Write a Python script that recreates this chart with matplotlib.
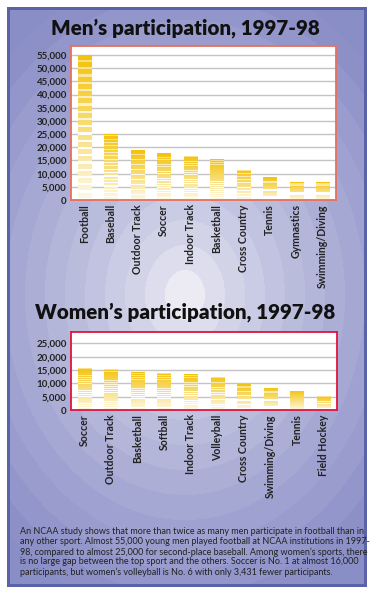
import numpy as np
import matplotlib
matplotlib.use("Agg")
import matplotlib.pyplot as plt
from matplotlib.colors import to_rgb

# data
men_sports = ["Football", "Baseball", "Outdoor Track", "Soccer", "Indoor Track",
              "Basketball", "Cross Country", "Tennis", "Gymnastics", "Swimming/Diving"]
men_counts = [54900, 25200, 18900, 17800, 16800, 15400, 11400, 8700, 6800, 6800]

women_sports = ["Soccer", "Outdoor Track", "Basketball", "Softball", "Indoor Track",
                "Volleyball", "Cross Country", "Swimming/Diving", "Tennis", "Field Hockey"]
women_counts = [15900, 15500, 14100, 14000, 13400, 12469, 9700, 8450, 7300, 5150]

men_ticks = list(range(0, 55001, 5000))
women_ticks = list(range(0, 25001, 5000))

caption = [
    "An NCAA study shows that more than twice as many men participate in football than in",
    "any other sport. Almost 55,000 young men played football at NCAA institutions in 1997-",
    "98, compared to almost 25,000 for second-place baseball. Among women\u2019s sports, there",
    "is no large gap between the top sport and the others. Soccer is No. 1 at almost 16,000",
    "participants, but women\u2019s volleyball is No. 6 with only 3,431 fewer participants.",
]

W, H = 374, 595
fig = plt.figure(figsize=(W / 100, H / 100), dpi=100)

# background panel with concentric light rings
bg = fig.add_axes([0, 0, 1, 1], zorder=0)
bg.add_patch(plt.Rectangle((7, 7), 360, 580, facecolor="#5a62a8", edgecolor="none", zorder=1))
yy, xx = np.mgrid[10:584, 10:364] + 0.5
r = np.sqrt((xx - 185) ** 2 + ((yy - 295) / 1.25) ** 2)
r = np.floor(r / 20) * 20 / 250.0
r = np.clip(r, 0, 1) ** 0.75
c_in = np.array(to_rgb("#ecebf4"))
c_out = np.array(to_rgb("#8a8ec6"))
img = c_in[None, None, :] * (1 - r[..., None]) + c_out[None, None, :] * r[..., None]
bg.imshow(img, extent=(10, 364, 584, 10), origin="upper", interpolation="bilinear",
          aspect="auto", zorder=2)
bg.set_xlim(0, W)
bg.set_ylim(H, 0)
bg.axis("off")

bg.text(185, 35, "Men\u2019s participation, 1997-98", ha="center", va="baseline",
        fontsize=14.8, fontweight="heavy", family="Lato", color="#111111", zorder=3)
bg.text(185, 318, "Women\u2019s participation, 1997-98", ha="center", va="baseline",
        fontsize=14.8, fontweight="heavy", family="Lato", color="#111111", zorder=3)
for i, line in enumerate(caption):
    bg.text(20, 532 + i * 10, line, ha="left", va="center", fontsize=6.5,
            family="Lato", color="#222222", zorder=3)


def striped_bars(ax, counts):
    bars = ax.bar(range(len(counts)), counts, width=0.5, color="none", edgecolor="none", zorder=3)
    gold = np.array(to_rgb("#f3bf00"))
    white = np.ones(3)
    n = 60
    rows = []
    for k in range(n):
        t = 0.05 + 0.85 * k / (n - 1)
        if k % 3 == 2:
            t = min(1.0, t + 0.45)
        rows.append(gold * (1 - t) + white * t)
    grad = np.array(rows)[:, None, :]
    for b in bars:
        x0, w, h = b.get_x(), b.get_width(), b.get_height()
        im = ax.imshow(grad, extent=(x0, x0 + w, 0, h), origin="upper",
                       aspect="auto", interpolation="nearest", zorder=3)
        im.set_clip_path(b)
    return bars


def setup(ax, sports, counts, ticks, ymax, spine_color):
    ax.set_facecolor("white")
    striped_bars(ax, counts)
    ax.set_xlim(-0.5, len(sports) - 0.5)
    ax.set_ylim(0, ymax)
    ax.set_yticks(ticks)
    ax.set_yticklabels(["{:,}".format(t) for t in ticks], family="Lato",
                       fontweight="bold", fontsize=7, color="#222222")
    ax.set_xticks(range(len(sports)))
    ax.set_xticklabels(sports, rotation=90, family="Lato", fontsize=7.6,
                       fontweight="bold", color="#222222")
    ax.tick_params(length=0, pad=3)
    ax.grid(axis="y", color="#c4c4c4", linewidth=1, zorder=1)
    ax.set_axisbelow(True)
    for s in ax.spines.values():
        s.set_color(spine_color)
        s.set_linewidth(1.3)
        s.set_zorder(5)


ax1 = fig.add_axes([71 / W, 1 - 200 / H, 265 / W, 154 / H], zorder=2)
setup(ax1, men_sports, men_counts, men_ticks, 58400, "#e8705a")

ax2 = fig.add_axes([71 / W, 1 - 410 / H, 266 / W, 78 / H], zorder=2)
setup(ax2, women_sports, women_counts, women_ticks, 29300, "#e0143c")

fig.savefig("out.png", dpi=100)
